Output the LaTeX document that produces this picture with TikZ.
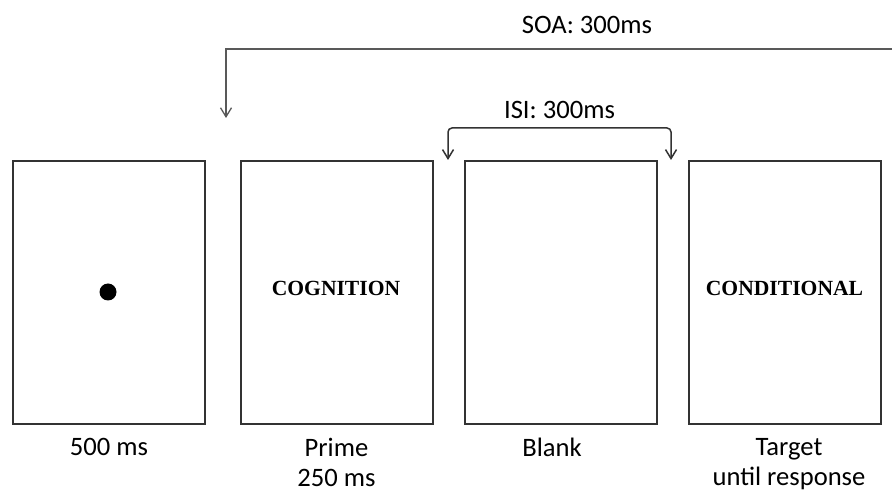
\documentclass[tikz,border=0pt]{standalone}
\usepackage{fontspec}
\setmainfont{Carlito}
\newfontfamily\stimfont{Liberation Serif}
\usetikzlibrary{arrows.meta}

\begin{document}
\begin{tikzpicture}[
    x = 0.5pt, y = 0.5pt,
    >= {Straight Barb[length=4.5pt, width=5.5pt]},
    screen/.style = {draw = black!80,
      line width = 1pt,
      minimum width = 96pt,
      minimum height = 131pt},
    stim/.style = {font = \stimfont\bfseries\fontsize{10.8}{13}\selectfont},
    caption/.style = {anchor = north, inner sep = 0pt, align = center,
      font = \fontsize{13.3}{15}\selectfont},
    timing/.style = {draw = black!65, line width = 0.65pt},
    ]

    \useasboundingbox (0, 0) rectangle (892, 492);

    \node at (109, 199.5) [screen, name = fix] {};
    \node at (336.5, 199.5) [screen, name = prime] {};
    \node at (561, 199.5) [screen, name = blank] {};
    \node at (785, 199.5) [screen, name = target] {};

    \node at (108, 200)
    [circle, fill, inner sep = 0pt, minimum size = 8.5pt, name = dot] {};
    \node at (336, 204) [stim, name = prime_word] {COGNITION};
    \node at (784.5, 204) [stim, name = target_word] {CONDITIONAL};

    \node at (109, 54) [caption, name = fix_cap] {500 ms};
    \node at (336.5, 54) [caption, name = prime_cap] {Prime\\250 ms};
    \node at (552, 54) [caption, name = blank_cap] {Blank};
    \node at (789, 54) [caption, name = target_cap] {Target\\until response};

    \coordinate (soa_start) at (892, 443);
    \coordinate (soa_end) at (226, 374);
    \coordinate (isi_l) at (448, 332);
    \coordinate (isi_r) at (671, 332);

    \draw [timing, ->] (soa_start) -| node [pos = 0.229, above = 4pt,
      font = \fontsize{13.3}{15}\selectfont] {SOA: 300ms}
    (soa_end);

    \draw [timing, draw = black!80, line width = 0.75pt, <->,
      rounded corners = 2pt] (isi_l) -- ++(0, 32)
    -| node [pos = 0.25, above = 1pt,
      font = \fontsize{13.3}{15}\selectfont] {ISI: 300ms}
    (isi_r);

  \end{tikzpicture}
\end{document}
